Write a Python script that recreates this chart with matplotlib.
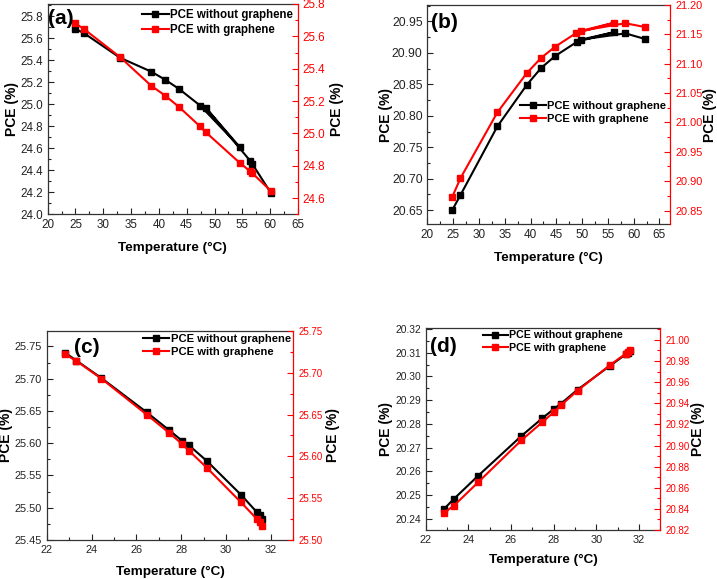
import matplotlib
matplotlib.use("Agg")
import matplotlib.pyplot as plt
from matplotlib.ticker import MultipleLocator, FormatStrFormatter

plt.rcParams['font.family'] = ['Liberation Sans', 'DejaVu Sans']

# ---------------- data ----------------
# (a)
Ta_black = [24.9, 26.5, 33.0, 38.6, 41.1, 43.6, 47.4, 54.5, 48.4, 56.4, 56.8, 60.1]
PCEa_black = [25.685, 25.646, 25.422, 25.296, 25.223, 25.139, 24.988, 24.613, 24.969, 24.486, 24.456, 24.196]
Ta_red = [24.9, 26.5, 33.0, 38.6, 41.1, 43.6, 47.4, 48.4, 54.5, 56.4, 56.8, 60.1]
PCEa_red = [25.681, 25.646, 25.472, 25.295, 25.234, 25.164, 25.043, 25.008, 24.819, 24.766, 24.754, 24.645]

# (b)
Tb_black = [24.8, 26.4, 33.55, 39.26, 42.05, 44.77, 49.1, 56.25, 49.77, 58.4, 62.2]
PCEb_black = [20.650, 20.674, 20.783, 20.849, 20.876, 20.895, 20.918, 20.933, 20.921, 20.931, 20.922]
Tb_red = [24.8, 26.4, 33.55, 39.26, 42.05, 44.77, 48.8, 56.25, 49.77, 58.4, 62.2]
PCEb_red = [20.873, 20.905, 21.017, 21.084, 21.110, 21.129, 21.152, 21.170, 21.156, 21.169, 21.1625]

# (c)
Tc = [22.83, 23.33, 24.44, 26.46, 27.47, 28.03, 28.34, 29.16, 30.67, 31.38, 31.50, 31.61]
PCEc_black = [25.740, 25.728, 25.701, 25.648, 25.620, 25.604, 25.597, 25.572, 25.520, 25.493, 25.489, 25.483]
PCEc_red = [25.722, 25.714, 25.693, 25.650, 25.628, 25.615, 25.607, 25.586, 25.545, 25.525, 25.521, 25.517]

# (d)
Td = [22.84, 23.32, 24.45, 26.49, 27.46, 28.03, 28.34, 29.12, 30.63, 31.38, 31.49, 31.58]
PCEd_black = [20.2439, 20.2483, 20.2580, 20.2749, 20.2823, 20.2864, 20.2885, 20.2944, 20.3044, 20.3093, 20.3100, 20.3109]
PCEd_red = [20.836, 20.843, 20.865, 20.905, 20.922, 20.932, 20.938, 20.952, 20.976, 20.987, 20.989, 20.990]

label_black = "PCE without graphene"
label_red = "PCE with graphene"
xlabel = "Temperature (°C)"
ylabel = "PCE (%)"

# ---------------- figure ----------------
fig = plt.figure(figsize=(7.17, 5.79), dpi=100)

panels = [
    dict(rect=[0.0665, 0.6299, 0.3491, 0.3632], letter="(a)",
         xb=Ta_black, yb=PCEa_black, xr=Ta_red, yr=PCEa_red,
         xlim=(20, 65), xmaj=5, ylim=(24.0, 25.91), ymaj=0.2, yfmt='%.1f',
         rylim=(24.5, 25.8), rymaj=0.2, ryfmt='%.1f',
         leg=(0.377, 0.976), legfs=8.3, let=(0.0, 0.933),
         ylx=-0.143, rylx=1.155, xly=-0.16, lfs=8.4, rfs=8.4, xfs=8.4),
    dict(rect=[0.5962, 0.6131, 0.3386, 0.3782], letter="(b)",
         xb=Tb_black, yb=PCEb_black, xr=Tb_red, yr=PCEb_red,
         xlim=(20, 67.1), xmaj=5, ylim=(20.628, 20.976), ymaj=0.05, yfmt='%.2f',
         rylim=(20.827, 21.20), rymaj=0.05, ryfmt='%.2f',
         leg=(0.381, 0.562), legfs=8.0, let=(0.016, 0.918),
         ylx=-0.170, rylx=1.162, xly=-0.155, lfs=8.8, rfs=7.9, xfs=8.5),
    dict(rect=[0.0651, 0.0674, 0.3439, 0.3610], letter="(c)",
         xb=Tc, yb=PCEc_black, xr=Tc, yr=PCEc_red,
         xlim=(22, 33), xmaj=2, ylim=(25.45, 25.774), ymaj=0.05, yfmt='%.2f',
         rylim=(25.50, 25.75), rymaj=0.05, ryfmt='%.2f',
         leg=(0.392, 0.986), legfs=8.1, let=(0.111, 0.923),
         ylx=-0.163, rylx=1.162, xly=-0.153, lfs=7.9, rfs=7.0, xfs=7.9),
    dict(rect=[0.5937, 0.0846, 0.3272, 0.3484], letter="(d)",
         xb=Td, yb=PCEd_black, xr=Td, yr=PCEd_red,
         xlim=(22, 33), xmaj=2, ylim=(20.2352, 20.3203), ymaj=0.01, yfmt='%.2f',
         rylim=(20.82, 21.011), rymaj=0.02, ryfmt='%.2f',
         leg=(0.244, 0.99), legfs=7.7, let=(0.017, 0.909),
         ylx=-0.168, rylx=1.161, xly=-0.149, lfs=7.4, rfs=7.0, xfs=7.9),
]

spine_col = '#333333'

for p in panels:
    ax = fig.add_axes(p['rect'])
    ax2 = ax.twinx()

    lb, = ax.plot(p['xb'], p['yb'], color='black', lw=1.5, marker='s',
                  markersize=4.5, label=label_black)
    lr, = ax2.plot(p['xr'], p['yr'], color='#ff0000', lw=1.5, marker='s',
                   markersize=4.5, label=label_red)

    ax.set_xlim(*p['xlim'])
    ax.set_ylim(*p['ylim'])
    ax2.set_ylim(*p['rylim'])

    ax.xaxis.set_major_locator(MultipleLocator(p['xmaj']))
    ax.xaxis.set_minor_locator(MultipleLocator(p['xmaj'] / 2))
    ax.yaxis.set_major_locator(MultipleLocator(p['ymaj']))
    ax.yaxis.set_minor_locator(MultipleLocator(p['ymaj'] / 2))
    ax.yaxis.set_major_formatter(FormatStrFormatter(p['yfmt']))
    ax2.yaxis.set_major_locator(MultipleLocator(p['rymaj']))
    ax2.yaxis.set_minor_locator(MultipleLocator(p['rymaj'] / 2))
    ax2.yaxis.set_major_formatter(FormatStrFormatter(p['ryfmt']))

    for s in ['left', 'bottom', 'top']:
        ax.spines[s].set_color(spine_col)
        ax.spines[s].set_linewidth(0.9)
    ax.spines['right'].set_visible(False)
    for s in ['left', 'bottom', 'top']:
        ax2.spines[s].set_visible(False)
    ax2.spines['right'].set_color('#ff0000')
    ax2.spines['right'].set_linewidth(0.9)

    ax.tick_params(axis='both', which='both', direction='in', top=False, right=False,
                   colors='#222222', width=0.8)
    ax.tick_params(axis='x', labelsize=p['xfs'])
    ax.tick_params(axis='y', labelsize=p['lfs'])
    ax.tick_params(which='major', length=4)
    ax.tick_params(which='minor', length=2)
    ax2.tick_params(axis='y', which='both', direction='in', colors='#ff0000',
                    labelsize=p['rfs'], width=0.8)
    ax2.tick_params(which='major', length=4)
    ax2.tick_params(which='minor', length=2)

    ax.set_xlabel(xlabel, fontsize=9.7, fontweight='bold')
    ax.xaxis.set_label_coords(0.5, p['xly'])
    ax.xaxis.label.set_va('center')
    ax.set_ylabel(ylabel, fontsize=10, fontweight='bold')
    ax.yaxis.set_label_coords(p['ylx'], 0.5)
    ax.yaxis.label.set_va('center')
    ax2.set_ylabel(ylabel, fontsize=10, fontweight='bold', color='black')
    ax2.yaxis.set_label_coords(p['rylx'], 0.5)
    ax2.yaxis.label.set_va('center')

    ax2.text(p['let'][0], p['let'][1], p['letter'], transform=ax.transAxes,
             fontsize=15, fontweight='bold', ha='left', va='center')

    ax2.legend([lb, lr], [label_black, label_red], loc='upper left',
               bbox_to_anchor=p['leg'], frameon=False, borderpad=0,
               borderaxespad=0, handlelength=2.3, handletextpad=0.15,
               labelspacing=0.25, numpoints=1,
               prop={'size': p['legfs'], 'weight': 'bold'})

fig.savefig("out.png", dpi=100)
